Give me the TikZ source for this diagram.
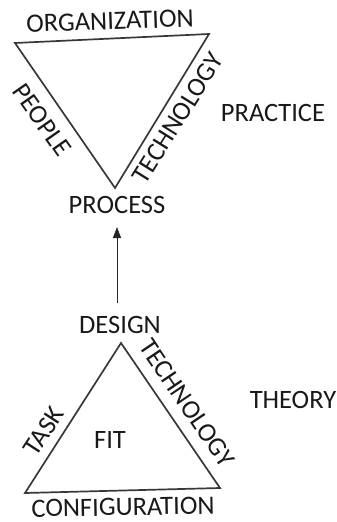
\documentclass[tikz,border=0pt]{standalone}
\usepackage{fontspec}
\setmainfont{Carlito}
\usetikzlibrary{arrows.meta}
\begin{document}
\begin{tikzpicture}[x=1pt,y=-1pt,
  edge/.style={draw=black!78,line width=1.7pt,line join=miter},
  lbl/.style={font=\fontsize{26.5}{28}\selectfont,inner sep=0pt,text=black!90}]
\useasboundingbox (0,0) rectangle (337,522);
% top triangle
\coordinate (tl) at (15,43);
\coordinate (tr) at (209,34);
\coordinate (tb) at (115,188);
\draw[edge] (tl) -- (tr) -- (tb) -- cycle;
\node[lbl,rotate=2] (org) at (110,21) {ORGANIZATION};
\node[lbl,rotate=-55] (people) at (42,120) {PEOPLE};
\node[lbl,rotate=58] (tech1) at (178,118) {TECHNOLOGY};
\node[lbl] (practice) at (273,113) {PRACTICE};
\node[lbl] (process) at (117,205) {PROCESS};
% bottom triangle
\coordinate (bt) at (121,343);
\coordinate (bl) at (25,493);
\coordinate (br) at (220,488);
\draw[edge] (bt) -- (br) -- (bl) -- cycle;
\node[lbl] (design) at (120,325) {DESIGN};
\node[lbl,rotate=57] (task) at (44,431) {TASK};
\node[lbl] (fit) at (110,440) {FIT};
\node[lbl,rotate=-56] (tech2) at (187,403) {TECHNOLOGY};
\node[lbl] (theory) at (293,400) {THEORY};
\node[lbl,rotate=1] (config) at (123,507) {CONFIGURATION};
% arrow
\coordinate (a0) at (117,303);
\coordinate (a1) at (117,227);
\draw[line width=1pt,black!85,-{Triangle[length=11pt,width=8pt]}] (a0) -- (a1);
\end{tikzpicture}
\end{document}
